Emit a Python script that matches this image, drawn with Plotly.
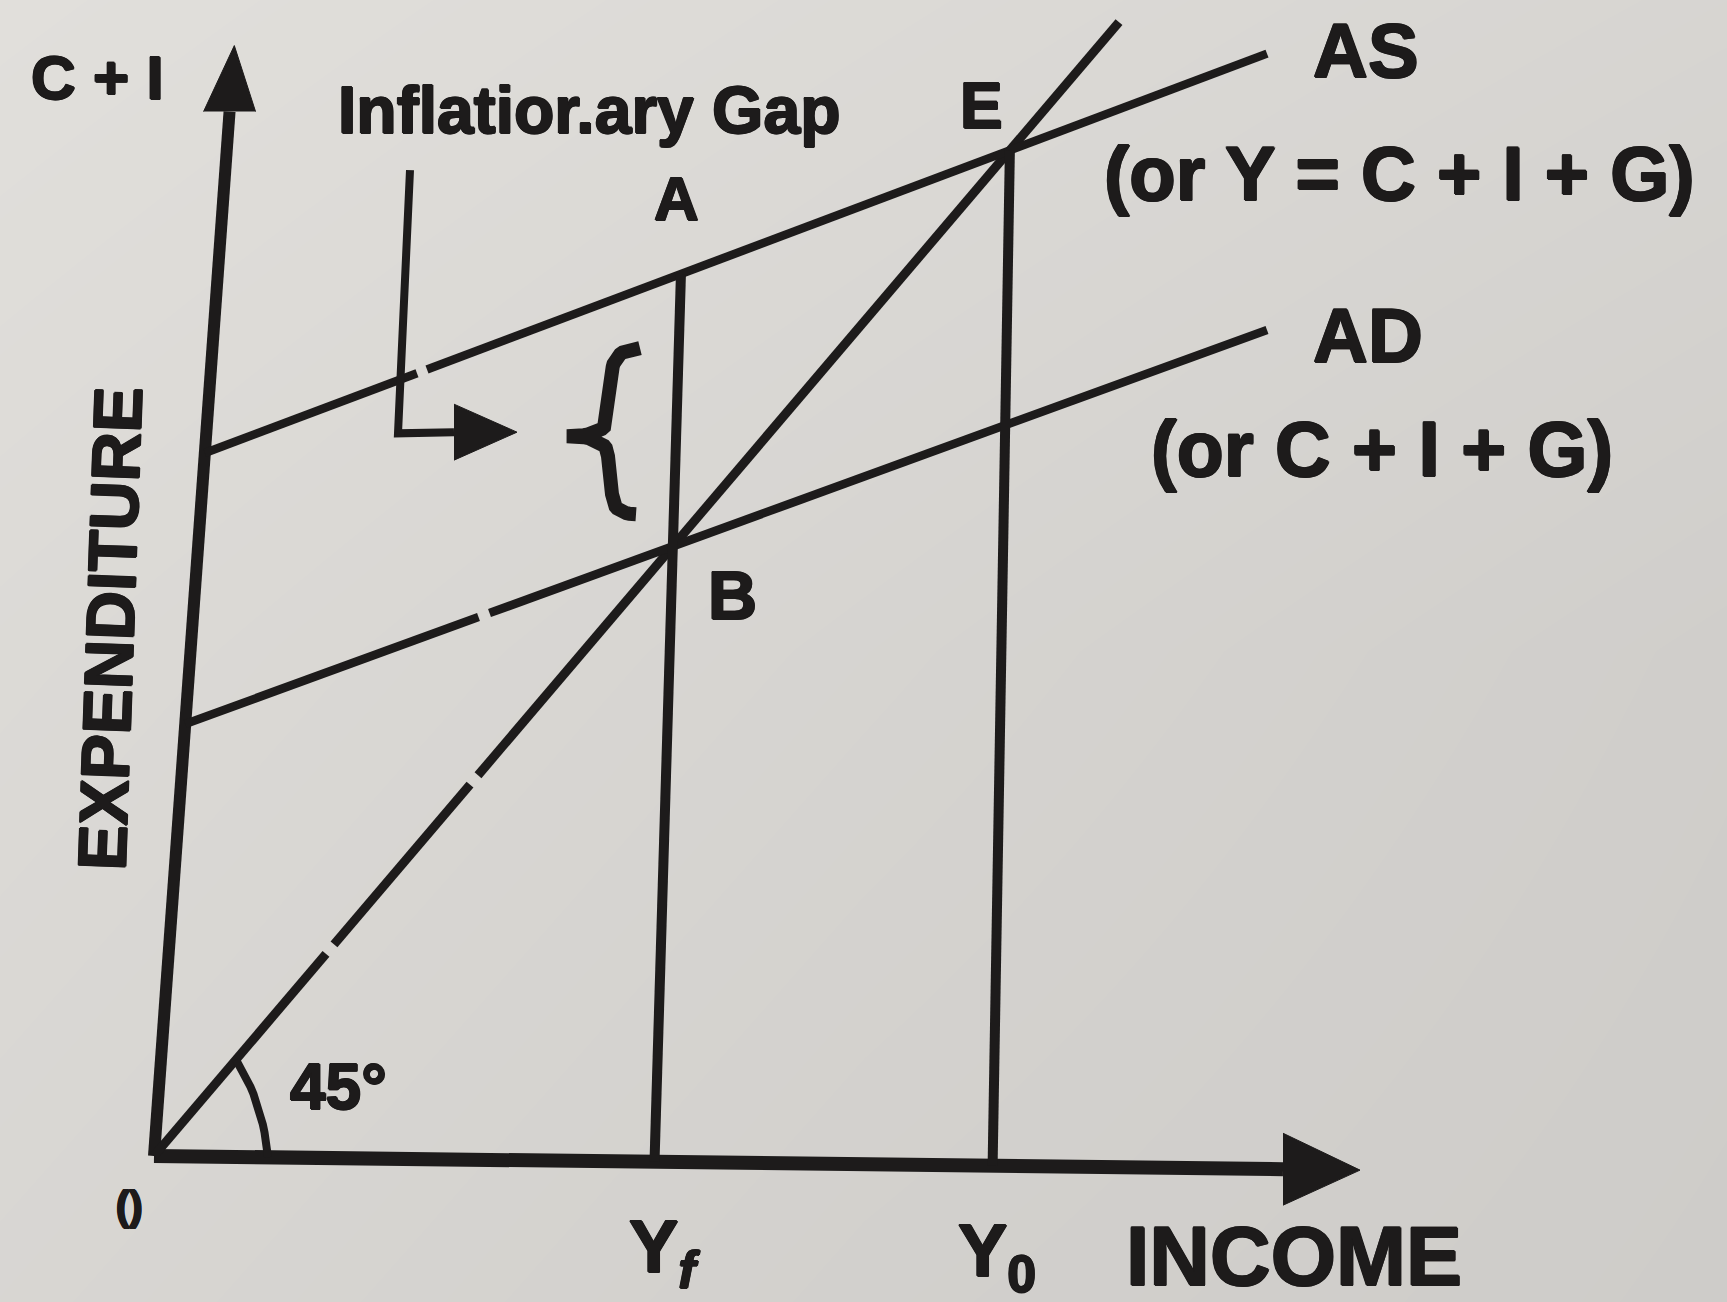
import numpy as np
import plotly.graph_objects as go

INK = "#1d1b1b"
FONT = "Liberation Sans"
HEAVY = ", ".join(f"{dx}px {dy}px 0 {INK}" for dx, dy in
                  [(1, 0), (-1, 0), (0, 1), (0, -1), (0.7, 0.7), (-0.7, -0.7)])

# Keynesian cross: expenditure = intercept + slope * income
ad_intercept, ad_slope = 35.8, 0.31      # AD  (or C + I + G)
as_intercept, as_slope = 58.2, 0.32      # AS  (or Y = C + I + G)
schedule_end = 111.3                     # income where both schedules stop
guide_end = 96.5                         # end of the 45-degree line

# axis extents (income, expenditure units)
income_axis_end = 120.6
expenditure_axis_end = 94.5

# drafting quirks of the printed figure: upright rules lean right, income axis sags
lean_axis, lean_yf, lean_y0 = 0.085, 0.035, 0.02
axis_sag = 0.01

# small breaks in the printed strokes (at these income values)
guide_breaks = [17.6, 32.0]
ad_breaks = [33.0]
as_breaks = [26.8]

# pointer from the "Inflationary Gap" caption to the gap
pointer_x = [25.6, 24.4, 30.0]
pointer_y = [83.9, 61.5, 61.6]
pointer_tip = 36.3

# equilibrium incomes
yf = ad_intercept / (1 - ad_slope)       # B: AD meets the 45-degree line
y0 = as_intercept / (1 - as_slope)       # E: AS meets the 45-degree line

# pixel scale of one unit on each axis (used for glyph-like shapes)
PX_X, PX_Y = 10.0, 11.75
x_range = [-15.4, 157.3]
y_range = [-12.43, 98.38]


def ad(i):
    return ad_intercept + ad_slope * i


def as_(i):
    return as_intercept + as_slope * i


def guide(i):
    return i


def broken(i0, i1, f, breaks, half):
    edges = [i0]
    for b in breaks:
        edges += [b - half, b + half]
    edges.append(i1)
    xs, ys = [], []
    for a, b in zip(edges[::2], edges[1::2]):
        xs += [a, b, None]
        ys += [f(a), f(b), None]
    return xs, ys


def on_lean(lean, intercept, slope):
    """Where a leaning upright rule I = lean * X meets X = intercept + slope * I."""
    x = intercept / (1 - slope * lean)
    return lean * x, x


def upright(through_i, lean, top_fn_intercept=None, top_fn_slope=None, top=None):
    base = through_i - lean * through_i
    i_bot = base / (1 + lean * axis_sag)
    x_bot = -axis_sag * i_bot
    if top is None:
        x_top = (top_fn_intercept + top_fn_slope * base) / (1 - top_fn_slope * lean)
        i_top = base + lean * x_top
    else:
        i_top, x_top = top
    return [i_bot, i_top], [x_bot, x_top]


fig = go.Figure()

# paper tone
gx = np.linspace(x_range[0], x_range[1], 3)
gy = np.linspace(y_range[0], y_range[1], 3)
tone = [[214, 208, 204],
        [218, 212, 206],
        [223, 218, 213]]
fig.add_trace(go.Heatmap(x=gx, y=gy, z=tone, zmin=200, zmax=226, zsmooth="best",
                         colorscale=[[0, "rgb(202,200,197)"], [1, "rgb(228,226,222)"]],
                         showscale=False, hoverinfo="skip"))


def line(xs, ys, width):
    fig.add_trace(go.Scatter(x=xs, y=ys, mode="lines", hoverinfo="skip",
                             line=dict(color=INK, width=width), showlegend=False))


def solid(xs, ys):
    fig.add_trace(go.Scatter(x=xs, y=ys, mode="lines", fill="toself", fillcolor=INK,
                             hoverinfo="skip", line=dict(color=INK, width=1),
                             showlegend=False))


# expenditure axis with arrow
head_base = expenditure_axis_end - 66 / PX_Y
line([0, lean_axis * head_base], [0, head_base], 12)
solid([lean_axis * head_base - 26 / PX_X, lean_axis * expenditure_axis_end,
       lean_axis * head_base + 26 / PX_X],
      [head_base, expenditure_axis_end, head_base])

# income axis with arrow
x_head_base = income_axis_end - 77 / PX_X
line([0, x_head_base], [0, -axis_sag * x_head_base], 14)
solid([x_head_base, income_axis_end, x_head_base],
      [-axis_sag * x_head_base + 36 / PX_Y, -axis_sag * income_axis_end,
       -axis_sag * x_head_base - 36 / PX_Y])

# 45-degree line
xs, ys = broken(0, guide_end, guide, guide_breaks, 0.4)
line(xs, ys, 9)

# AD and AS schedules, starting on the expenditure axis
ad_start, _ = on_lean(lean_axis, ad_intercept, ad_slope)
xs, ys = broken(ad_start, schedule_end, ad, ad_breaks, 0.55)
line(xs, ys, 8.5)
as_start, _ = on_lean(lean_axis, as_intercept, as_slope)
xs, ys = broken(as_start, schedule_end, as_, as_breaks, 0.5)
line(xs, ys, 8.5)

# verticals at Yf (up to A) and Y0 (up to E)
vx, vy = upright(yf, lean_yf, as_intercept, as_slope)
line(vx, vy, 10)
vx0, vy0 = upright(y0, lean_y0, top=(y0, y0))
line(vx0, vy0, 10)


def quad(p0, p1, p2, n=14):
    s = np.linspace(0, 1, n)[:, None]
    p0, p1, p2 = map(np.array, (p0, p1, p2))
    return list((1 - s) ** 2 * p0 + 2 * (1 - s) * s * p1 + s ** 2 * p2)


# 45-degree angle mark: a short stroke from the guide down to the income axis
mark = quad((8.2, 8.2), (10.9, 4.6), (11.4, -axis_sag * 11.4))
line([p[0] for p in mark], [p[1] for p in mark], 8)

# inflationary-gap pointer
line(pointer_x, pointer_y, 8)
solid([pointer_x[-1], pointer_tip, pointer_x[-1]],
      [pointer_y[-1] + 28 / PX_Y, pointer_y[-1], pointer_y[-1] - 28 / PX_Y])

# brace marking the gap between AS and AD (offsets in pixels from its centre)
brace_c = (44.9, 61.6)
pts = []
pts += quad((37, -84), (9, -83), (9, -58))
pts += [np.array((5, -15))]
pts += quad((5, -15), (5, 4), (-36, 4))
pts += quad((-36, 4), (5, 4), (5, 24))
pts += [np.array((9, 62))]
pts += quad((9, 62), (9, 82), (33, 82))
line([brace_c[0] + p[0] / PX_X for p in pts],
     [brace_c[1] - p[1] / PX_Y for p in pts], 14)


def label(text, x, y, size, angle=0):
    fig.add_annotation(x=x, y=y, text=text, showarrow=False, textangle=angle,
                       xanchor="center", yanchor="middle",
                       font=dict(family=FONT, size=size, color=INK, shadow=HEAVY))


label("<b>C + I</b>", -5.7, 91.8, 62)
label("<b>Inflatior.ary Gap</b>", 43.5, 89.0, 66)
label("<b>E</b>", 82.7, 89.4, 64)
label("<b>A</b>", 52.2, 81.5, 62)
label("<b>B</b>", 57.8, 47.7, 68)
label("<b>AS</b>", 121.2, 94.1, 76)
label("<b>(or Y = C + I + G)</b>", 124.5, 83.6, 76)
label("<b>AD</b>", 121.4, 69.8, 76)
label("<b>(or C + I + G)</b>", 122.8, 60.2, 77)
label("<b>EXPENDITURE</b>", -4.4, 44.9, 68, angle=-88)
label("<b>45°</b>", 18.4, 5.9, 64)
label("<b>()</b>", -2.5, -4.3, 40)
label("<b>Y<sub><i>f</i></sub></b>", 51.0, -8.2, 74)
label("<b>Y<sub>0</sub></b>", 84.3, -8.5, 74)
label("<b>INCOME</b>", 114.0, -8.5, 84)

fig.update_layout(
    width=1727, height=1302,
    margin=dict(l=0, r=0, t=0, b=0),
    paper_bgcolor="#d6d4d0", plot_bgcolor="#d6d4d0",
    xaxis=dict(range=x_range, visible=False, fixedrange=True),
    yaxis=dict(range=y_range, visible=False, fixedrange=True),
    showlegend=False,
)

fig.write_html("out.html")
